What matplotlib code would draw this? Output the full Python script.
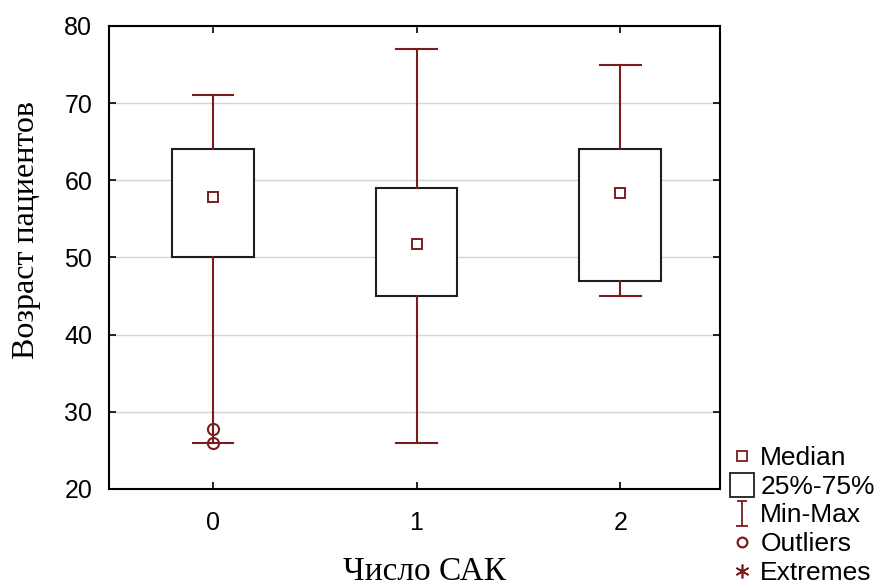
import matplotlib
matplotlib.use("Agg")
import matplotlib.pyplot as plt
from matplotlib.lines import Line2D
from matplotlib.path import Path

categories = ["0", "1", "2"]
medians = [57.8, 51.8, 58.4]
q1 = [50, 45, 47]
q3 = [64, 59, 64]
mins = [26, 26, 45]
maxs = [71, 77, 75]
outliers = [[27.8, 26.0], [], []]

yticks = [20, 30, 40, 50, 60, 70, 80]

box_color = "#1e1e1e"
red = "#7b1c1c"

fig = plt.figure(figsize=(8.84, 5.88), dpi=100)
ax = fig.add_axes([109/884, 1-489/588, (720-109)/884, (489-26)/588])

stats = []
for i, c in enumerate(categories):
    stats.append(dict(med=medians[i], q1=q1[i], q3=q3[i], whislo=mins[i],
                      whishi=maxs[i], fliers=outliers[i], label=c))
pos = list(range(len(categories)))
ax.bxp(stats, positions=pos, widths=0.4, patch_artist=True, showfliers=True,
       boxprops=dict(facecolor="white", edgecolor=box_color, linewidth=1.5),
       whiskerprops=dict(color=red, linewidth=1.5),
       capprops=dict(color=red, linewidth=1.5),
       capwidths=0.2,
       medianprops=dict(linestyle="none"),
       flierprops=dict(marker="o", markerfacecolor="none", markeredgecolor=red,
                       markersize=8, markeredgewidth=1.5),
       zorder=3)
ax.plot(pos, medians, linestyle="none", marker="s", markersize=7.5,
        markerfacecolor="white", markeredgecolor=red, markeredgewidth=1.4, zorder=4)

ax.set_xlim(-0.51, 2.49)
ax.set_ylim(20, 80)
ax.set_yticks(yticks)
ax.set_xticks(pos)
ax.set_xticklabels(categories)
ax.yaxis.grid(True, color="#d4d4d4", linewidth=1)
ax.set_axisbelow(True)
ax.tick_params(direction="in", length=5, width=1.2, top=True, right=True,
               labelsize=18, colors="black")
ax.tick_params(axis="y", pad=12)
ax.tick_params(axis="x", pad=16)
for lab in ax.get_xticklabels() + ax.get_yticklabels():
    lab.set_fontfamily("Liberation Sans")
for s in ax.spines.values():
    s.set_linewidth(1.5)
    s.set_color("black")

ax.set_ylabel("Возраст пациентов", fontsize=23, family="Liberation Serif")
ax.yaxis.set_label_coords(-0.111, 0.56)
ax.set_xlabel("Число САК", fontsize=24, family="Liberation Serif")
ax.xaxis.set_label_coords(0.516, -0.146)

ibeam = Path([(-0.5, -1), (0.5, -1), (0, -1), (0, 1), (-0.4, 1), (0.4, 1)],
             [Path.MOVETO, Path.LINETO, Path.MOVETO, Path.LINETO, Path.MOVETO, Path.LINETO])
handles = [
    Line2D([], [], linestyle="none", marker="s", markersize=7, markerfacecolor="white",
           markeredgecolor=red, markeredgewidth=1.3),
    Line2D([], [], linestyle="none", marker="s", markersize=17, markerfacecolor="white",
           markeredgecolor=box_color, markeredgewidth=1.3),
    Line2D([], [], linestyle="none", marker=ibeam, markersize=18, color=red,
           markeredgewidth=1.3),
    Line2D([], [], linestyle="none", marker="o", markersize=7, markerfacecolor="white",
           markeredgecolor=red, markeredgewidth=1.6),
    Line2D([], [], linestyle="none", marker=(6, 2, 0), markersize=10, color=red,
           markeredgewidth=1.2),
]
labels = ["Median", "25%-75%", "Min-Max", "Outliers", "Extremes"]
fig.legend(handles, labels, loc="lower left", bbox_to_anchor=(730/884, 3/588),
           frameon=False, prop=dict(family="Liberation Sans", size=19),
           handlelength=0.9, handletextpad=0.25, labelspacing=0.18, borderpad=0,
           borderaxespad=0)

fig.savefig("out.png", dpi=100, facecolor="white")
